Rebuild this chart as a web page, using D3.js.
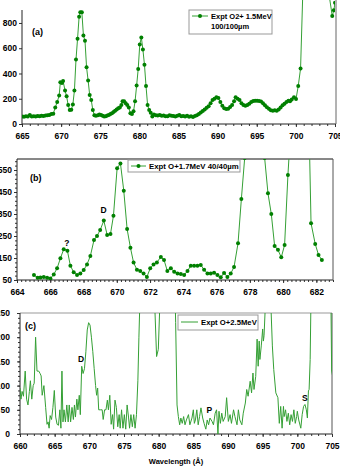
<!DOCTYPE html>
<html>
<head>
<meta charset="utf-8">
<script src="https://cdn.jsdelivr.net/npm/d3@7"></script>
<style>
body { margin: 0; background: #fff; }
svg text { font-family: "Liberation Sans", Arial, sans-serif; font-weight: bold; fill: #000; }
</style>
</head>
<body>
<div id="chart"></div>
<script>
// panel (a): O2+ 1.5MeV, 100/100um
const lambdaA = [665.0, 665.25, 665.5, 665.75, 666.0, 666.25, 666.5, 666.75, 667.0, 667.25, 667.5, 667.75, 668.0, 668.25, 668.5, 668.75, 669.0, 669.25, 669.5, 669.75, 669.9, 670.1, 670.25, 670.5, 670.7, 670.9, 671.1, 671.3, 671.5, 671.7, 671.9, 672.1, 672.3, 672.45, 672.65, 672.85, 673.05, 673.25, 673.45, 673.65, 673.85, 674.05, 674.25, 674.45, 674.7, 674.9, 675.1, 675.3, 675.5, 675.7, 675.9, 676.1, 676.3, 676.5, 676.7, 676.9, 677.1, 677.3, 677.5, 677.7, 677.85, 678.05, 678.25, 678.45, 678.65, 678.85, 679.05, 679.25, 679.45, 679.65, 679.85, 680.05, 680.25, 680.45, 680.65, 680.85, 681.05, 681.25, 681.45, 681.65, 681.85, 682.1, 682.35, 682.6, 682.85, 683.1, 683.35, 683.6, 683.85, 684.1, 684.35, 684.6, 684.85, 685.1, 685.35, 685.6, 685.85, 686.1, 686.35, 686.6, 686.85, 687.1, 687.35, 687.6, 687.85, 688.1, 688.35, 688.6, 688.85, 689.1, 689.35, 689.6, 689.85, 690.1, 690.35, 690.6, 690.85, 691.1, 691.35, 691.6, 691.85, 692.1, 692.3, 692.55, 692.8, 693.05, 693.3, 693.55, 693.8, 694.05, 694.3, 694.55, 694.8, 695.05, 695.3, 695.55, 695.8, 696.05, 696.3, 696.55, 696.8, 697.05, 697.3, 697.55, 697.8, 698.05, 698.3, 698.55, 698.8, 699.05, 699.25, 699.47, 699.76, 700.02, 700.3, 700.6, 700.9, 701.5, 702.5, 703.5, 704.3, 704.65, 704.85, 705.0];
const countsA = [60, 58, 62, 60, 72, 60, 62, 60, 64, 62, 66, 64, 68, 70, 72, 80, 82, 130, 175, 225, 330, 325, 340, 265, 220, 150, 110, 112, 155, 265, 510, 675, 850, 885, 885, 700, 660, 450, 345, 230, 190, 110, 70, 65, 70, 75, 72, 65, 60, 62, 68, 72, 80, 85, 95, 105, 115, 125, 130, 150, 180, 180, 165, 150, 130, 85, 80, 100, 180, 305, 435, 630, 685, 590, 470, 300, 150, 110, 90, 60, 75, 70, 68, 72, 65, 68, 62, 62, 70, 65, 64, 60, 66, 72, 62, 64, 60, 65, 58, 62, 56, 64, 70, 80, 92, 102, 115, 128, 140, 165, 190, 200, 212, 205, 175, 145, 125, 118, 120, 135, 150, 180, 212, 200, 190, 165, 150, 145, 150, 160, 175, 182, 185, 185, 182, 178, 165, 148, 132, 120, 108, 105, 108, 104, 115, 130, 148, 160, 175, 185, 180, 195, 211, 198, 300, 440, 1070, 1600, 1800, 1500, 1000, 855, 900, 960];

// panel (b): O+ 1.7MeV, 40/40um
const lambdaB = [665.02, 665.24, 665.41, 665.61, 665.81, 666.01, 666.21, 666.41, 666.61, 666.81, 667.03, 667.21, 667.41, 667.61, 667.81, 668.01, 668.21, 668.41, 668.63, 668.81, 669.0, 669.22, 669.42, 669.62, 669.8, 670.02, 670.22, 670.42, 670.62, 670.82, 671.01, 671.21, 671.41, 671.61, 671.81, 672.01, 672.21, 672.41, 672.65, 672.84, 673.04, 673.25, 673.45, 673.65, 673.85, 674.05, 674.25, 674.45, 674.65, 674.85, 675.05, 675.25, 675.45, 675.65, 675.85, 676.05, 676.25, 676.45, 676.65, 676.85, 677.05, 677.29, 677.49, 677.69, 677.89, 678.09, 678.29, 678.49, 678.69, 678.89, 679.09, 679.29, 679.49, 679.69, 679.89, 680.09, 680.29, 680.49, 680.69, 680.89, 681.09, 681.29, 681.49, 681.68, 681.93, 682.13, 682.33];
const countsB = [73, 60, 61, 64, 60, 57, 75, 103, 149, 190, 183, 115, 85, 73, 80, 95, 121, 159, 232, 250, 277, 320, 255, 259, 342, 558, 580, 456, 282, 197, 129, 97, 91, 79, 64, 103, 121, 130, 155, 141, 91, 103, 88, 80, 77, 73, 91, 115, 115, 115, 118, 97, 80, 80, 83, 73, 62, 82, 64, 79, 109, 217, 418, 605, 900, 1200, 1300, 1100, 800, 605, 444, 350, 205, 187, 153, 209, 527, 780, 1000, 1100, 1000, 900, 1000, 308, 214, 164, 141];

// panel (c): O+ 2.5MeV
const lambdaC = [660.0, 660.14, 660.3, 660.5, 660.75, 660.95, 661.15, 661.35, 661.5, 661.7, 661.9, 662.05, 662.25, 662.45, 662.7, 662.9, 663.05, 663.2, 663.45, 663.7, 663.9, 664.05, 664.2, 664.35, 664.55, 664.75, 664.95, 665.15, 665.35, 665.55, 665.75, 665.9, 666.05, 666.2, 666.35, 666.55, 666.75, 666.95, 667.1, 667.3, 667.5, 667.7, 667.85, 668.0, 668.2, 668.35, 668.55, 668.7, 668.9, 669.1, 669.3, 669.5, 669.7, 669.9, 670.1, 670.3, 670.5, 670.7, 670.9, 671.05, 671.2, 671.35, 671.6, 671.85, 672.0, 672.2, 672.4, 672.6, 672.75, 672.95, 673.15, 673.35, 673.5, 673.7, 673.9, 674.1, 674.3, 674.45, 674.65, 674.85, 675.05, 675.25, 675.45, 675.65, 675.8, 676.0, 676.2, 676.4, 676.6, 676.8, 677.0, 677.15, 677.4, 677.8, 678.4, 679.0, 679.45, 679.7, 679.95, 680.2, 680.6, 681.2, 681.8, 682.2, 682.45, 682.65, 682.84, 683.03, 683.2, 683.4, 683.6, 683.8, 684.0, 684.3, 684.5, 684.8, 685.0, 685.15, 685.3, 685.5, 685.7, 685.9, 686.1, 686.35, 686.55, 686.8, 687.0, 687.2, 687.4, 687.7, 687.9, 688.15, 688.35, 688.55, 688.7, 688.9, 689.1, 689.3, 689.6, 689.8, 690.05, 690.3, 690.5, 690.8, 691.0, 691.3, 691.5, 691.7, 692.0, 692.2, 692.5, 692.7, 692.9, 693.2, 693.4, 693.6, 693.75, 694.0, 694.2, 694.35, 694.5, 694.6, 694.8, 695.0, 695.1, 695.2, 695.4, 695.7, 696.0, 696.2, 696.4, 696.6, 696.9, 697.2, 697.4, 697.6, 697.8, 698.0, 698.1, 698.3, 698.5, 698.7, 698.9, 699.1, 699.3, 699.5, 699.7, 699.9, 700.0, 700.2, 700.5, 700.7, 700.9, 701.1, 701.3, 701.45, 701.6, 701.7, 701.85, 701.95, 702.5, 703.5, 704.4, 704.86, 704.95, 705.1];
const countsC = [95, 72, 88, 78, 130, 72, 60, 88, 110, 72, 100, 105, 200, 130, 130, 125, 120, 80, 100, 55, 20, 25, 12, 38, 30, 55, 90, 35, 20, 18, 50, 12, 130, 25, 50, 25, 60, 25, 60, 25, 55, 30, 60, 35, 72, 50, 80, 40, 140, 125, 135, 170, 215, 230, 225, 200, 170, 135, 100, 80, 95, 50, 50, 50, 30, 50, 50, 70, 50, 80, 20, 40, 10, 70, 55, 15, 40, 12, 50, 12, 40, 10, 60, 35, 12, 40, 15, 40, 12, 40, 110, 200, 330, 600, 900, 700, 260, 160, 175, 280, 700, 1000, 800, 400, 230, 60, 36, 19, 33, 22, 36, 19, 29, 40, 19, 33, 50, 22, 29, 50, 19, 36, 54, 33, 22, 10, 29, 19, 33, 26, 19, 43, 50, 0, 47, 22, 43, 26, 36, 75, 26, 40, 22, 50, 36, 19, 50, 29, 19, 43, 64, 92, 78, 109, 85, 126, 92, 119, 196, 140, 192, 154, 182, 217, 192, 203, 270, 500, 400, 260, 182, 133, 85, 75, 22, 57, 12, 57, 36, 50, 26, 43, 19, 40, 26, 50, 22, 36, 47, 29, 12, 40, 57, 61, 50, 33, 89, 92, 154, 260, 700, 900, 600, 255, 130, 119];

// tick labels
const ticksXA = [665, 670, 675, 680, 685, 690, 695, 700, 705];
const ticksYA = [0, 200, 400, 600, 800];
const ticksXB = [664, 666, 668, 670, 672, 674, 676, 678, 680, 682];
const ticksYB = [50, 150, 250, 350, 450, 550];
const ticksXC = [660, 665, 670, 675, 680, 685, 690, 695, 700, 705];
const ticksYC = [0, 50, 100, 150, 200, 250];

// peak labels
const notesB = [{text: "?", x: 667.0, y: 205}, {text: "D", x: 669.2, y: 355}];
const notesC = [{text: "D", x: 668.8, y: 149}, {text: "P", x: 687.3, y: 43}, {text: "S", x: 701.1, y: 68}];

const lineGreen = "#35a035",
    dotGreen = "#008000";

let svg = d3.select("#chart")
    .append("svg")
    .attr("width", 340)
    .attr("height", 473);

function drawPanel(p) {
    let x = d3.scaleLinear().domain(p.xDomain).range([p.left, p.right]);
    let y = d3.scaleLinear().domain(p.yDomain).range([p.bottom, p.top]);

    svg.append("clipPath").attr("id", "clip-" + p.name)
        .append("rect")
        .attr("x", p.left)
        .attr("y", p.top)
        .attr("width", p.right - p.left)
        .attr("height", p.bottom - p.top);

    let g = svg.append("g");

    // minor ticks
    g.append("g")
        .attr("transform", "translate(0," + p.bottom + ")")
        .call(d3.axisBottom(x).tickValues(p.xMinor).tickSize(2).tickFormat(""))
        .call(function (s) { s.select(".domain").remove(); });
    g.append("g")
        .attr("transform", "translate(" + p.left + ",0)")
        .call(d3.axisLeft(y).tickValues(p.yMinor).tickSize(2).tickFormat(""))
        .call(function (s) { s.select(".domain").remove(); });

    // major ticks with labels
    g.append("g")
        .attr("transform", "translate(0," + p.bottom + ")")
        .call(d3.axisBottom(x).tickValues(p.xTicks).tickSize(3).tickPadding(6).tickFormat(d3.format("d")))
        .call(function (s) {
            s.select(".domain").remove();
            s.selectAll("text").style("font-size", "8.5px");
        });
    g.append("g")
        .attr("transform", "translate(" + p.left + ",0)")
        .call(d3.axisLeft(y).tickValues(p.yTicks).tickSize(3).tickPadding(p.yPad).tickFormat(d3.format("d")))
        .call(function (s) {
            s.select(".domain").remove();
            s.selectAll("text").style("font-size", "8.5px");
        });
    g.selectAll(".tick line").style("stroke", "#333");

    // frame
    p.frame.forEach(function (f) {
        g.append("line")
            .attr("x1", f[0]).attr("y1", f[1])
            .attr("x2", f[2]).attr("y2", f[3])
            .style("stroke", f[4])
            .style("stroke-width", 1);
    });

    let pts = p.wl.map(function (d, i) {
        return [d, p.counts[i]];
    });

    let line = d3.line()
        .x(function (d) { return x(d[0]); })
        .y(function (d) { return y(d[1]); });

    let plot = g.append("g").attr("clip-path", "url(#clip-" + p.name + ")");

    plot.append("path")
        .datum(pts)
        .attr("d", line)
        .style("fill", "none")
        .style("stroke", lineGreen)
        .style("stroke-width", 1);

    if (p.markers) {
        plot.selectAll(".dot")
            .data(pts)
            .enter()
            .append("circle")
            .attr("class", "dot")
            .attr("cx", function (d) { return x(d[0]); })
            .attr("cy", function (d) { return y(d[1]); })
            .attr("r", 2)
            .style("fill", dotGreen);
    }

    // panel letter
    g.append("text")
        .attr("x", p.tag[1])
        .attr("y", p.tag[2])
        .style("font-size", "9px")
        .text(p.tag[0]);

    // annotations
    g.selectAll(".note")
        .data(p.notes)
        .enter()
        .append("text")
        .attr("x", function (d) { return x(d.x); })
        .attr("y", function (d) { return y(d.y); })
        .attr("text-anchor", "middle")
        .style("font-size", "8.5px")
        .text(function (d) { return d.text; });

    // legend
    let L = p.legend;
    g.append("rect")
        .attr("x", L.x).attr("y", L.y)
        .attr("width", L.w).attr("height", L.h)
        .style("fill", "#fff")
        .style("stroke", "#999")
        .style("stroke-width", 1);
    g.append("line")
        .attr("x1", L.x + 3).attr("x2", L.x + L.sw)
        .attr("y1", L.y + L.ly).attr("y2", L.y + L.ly)
        .style("stroke", lineGreen)
        .style("stroke-width", 1);
    if (p.markers) {
        g.append("circle")
            .attr("cx", L.x + 3 + (L.sw - 3) / 2)
            .attr("cy", L.y + L.ly)
            .attr("r", 2)
            .style("fill", dotGreen);
    }
    L.lines.forEach(function (t, i) {
        g.append("text")
            .attr("x", L.x + L.sw + 3)
            .attr("y", L.y + L.ly + 3 + i * 10)
            .style("font-size", L.fs)
            .text(t);
    });
}

drawPanel({
    name: "a",
    left: 22, right: 335, top: 0, bottom: 124,
    xDomain: [665, 705], yDomain: [0, 982],
    xTicks: ticksXA, yTicks: ticksYA,
    xMinor: d3.range(665, 706, 1), yMinor: [],
    yPad: 2,
    wl: lambdaA, counts: countsA, markers: true,
    frame: [[22, 10, 22, 124, "#222"], [22, 124, 336, 124, "#222"], [336, 0, 336, 124, "#666"]],
    tag: ["(a)", 32, 35],
    notes: [],
    legend: {x: 189, y: 10, w: 83, h: 24, sw: 19, ly: 6, fs: "7.5px", lines: ["Expt O2+ 1.5MeV", "100/100µm"]}
});

drawPanel({
    name: "b",
    left: 17, right: 333, top: 159, bottom: 280,
    xDomain: [664, 683], yDomain: [50, 600],
    xTicks: ticksXB, yTicks: ticksYB,
    xMinor: d3.range(664, 683.01, 0.25), yMinor: d3.range(50, 601, 20),
    yPad: 2,
    wl: lambdaB, counts: countsB, markers: true,
    frame: [[17, 159, 333, 159, "#111"], [17, 159, 17, 280, "#222"], [17, 280, 333, 280, "#222"], [333, 159, 333, 280, "#555"]],
    tag: ["(b)", 30, 181],
    notes: notesB,
    legend: {x: 128, y: 160, w: 112, h: 12, sw: 18, ly: 6, fs: "7.8px", lines: ["Expt O+1.7MeV 40/40µm"]}
});

drawPanel({
    name: "c",
    left: 20, right: 332, top: 313, bottom: 434,
    xDomain: [660, 705], yDomain: [0, 250],
    xTicks: ticksXC, yTicks: ticksYC,
    xMinor: d3.range(660, 706, 1), yMinor: d3.range(0, 251, 10),
    yPad: 7,
    wl: lambdaC, counts: countsC, markers: false,
    frame: [[20, 313, 332, 313, "#999"], [20, 313, 20, 434, "#222"], [20, 434, 332, 434, "#222"], [332, 313, 332, 434, "#555"]],
    tag: ["(c)", 25, 329],
    notes: notesC,
    legend: {x: 178, y: 315, w: 80, h: 15, sw: 20, ly: 7, fs: "7.7px", lines: ["Expt O+2.5MeV"]}
});

// x axis title
svg.append("text")
    .attr("x", 176)
    .attr("y", 464)
    .attr("text-anchor", "middle")
    .style("font-size", "7.5px")
    .text("Wavelength (Å)");
</script>
</body>
</html>
